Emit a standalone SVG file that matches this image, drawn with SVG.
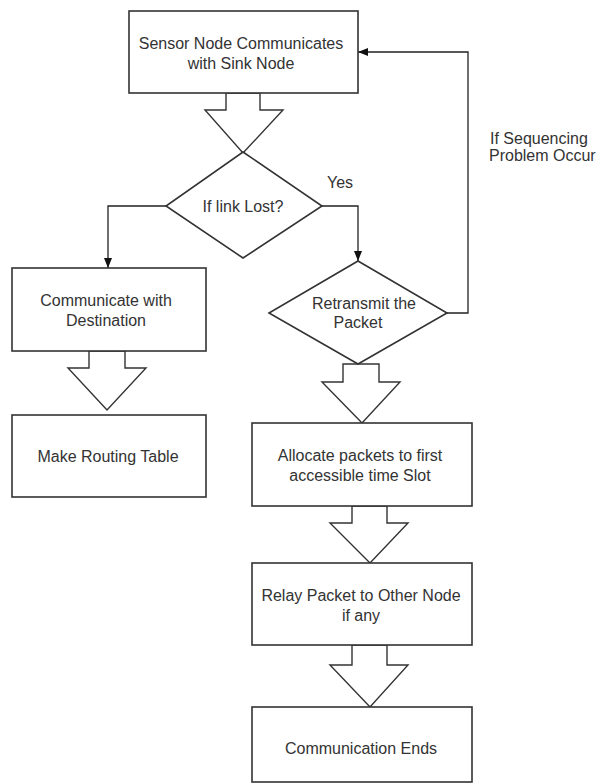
<svg xmlns="http://www.w3.org/2000/svg" width="600" height="783" viewBox="0 0 600 783">
<defs>
<marker id="arr" viewBox="0 0 10 8" refX="10" refY="4" markerWidth="10" markerHeight="8" markerUnits="userSpaceOnUse" orient="auto">
<path d="M0,0 L10,4 L0,8 Z" fill="#111"/>
</marker>
<style>
.box{fill:#fff;stroke:#333;stroke-width:1.6}
.blk{fill:#fff;stroke:#333;stroke-width:1.4;stroke-linejoin:miter}
.ln{fill:none;stroke:#222;stroke-width:1.3}
text{font-family:"Liberation Sans",Arial,sans-serif;font-size:16px;fill:#333;text-anchor:middle}
.lbl{text-anchor:start}
</style>
</defs>
<rect width="600" height="783" fill="#fff"/>
<g id="connectors">
<path class="ln" d="M322,206 H358 V261" marker-end="url(#arr)"/>
<path class="ln" d="M166,206 H108 V268" marker-end="url(#arr)"/>
<path class="ln" d="M447,313 H468 V52 H358" marker-end="url(#arr)"/>
<polygon class="blk" points="226,93 260,93 260,110 283,110 243,153 205,110 226,110"/>
<polygon class="blk" points="89,351 125,351 125,368 146,368 107,410 68,368 89,368"/>
<polygon class="blk" points="343,364 379,364 379,382 400,382 362,423 322,382 343,382"/>
<polygon class="blk" points="352,506 387,506 387,523 408,523 370,563 330,523 352,523"/>
<polygon class="blk" points="352,645 387,645 387,665 408,665 370,707 330,665 352,665"/>
<text x="340" y="188">Yes</text>
<text class="lbl" x="490" y="144">If Sequencing</text>
<text class="lbl" x="489" y="161">Problem Occur</text>
</g>
<g id="n1">
<rect class="box" x="129" y="11" width="229" height="82"/>
<text x="241" y="49">Sensor Node Communicates</text>
<text x="241" y="69">with Sink Node</text>
</g>
<g id="n2">
<polygon class="box" points="243,152 322,206 243,258 166,206"/>
<text x="243" y="212">If link Lost?</text>
</g>
<g id="n3">
<rect class="box" x="12" y="268" width="194" height="83"/>
<text x="106" y="306">Communicate with</text>
<text x="106" y="326">Destination</text>
</g>
<g id="n4">
<rect class="box" x="12" y="415" width="194" height="82"/>
<text x="108" y="462">Make Routing Table</text>
</g>
<g id="n5">
<polygon class="box" points="358,261 447,313 358,364 269,313"/>
<text x="364" y="309">Retransmit the</text>
<text x="358" y="328">Packet</text>
</g>
<g id="n6">
<rect class="box" x="252" y="423" width="220" height="83"/>
<text x="360" y="461">Allocate packets to first</text>
<text x="360" y="481">accessible time Slot</text>
</g>
<g id="n7">
<rect class="box" x="252" y="563" width="220" height="82"/>
<text x="361" y="601">Relay Packet to Other Node</text>
<text x="361" y="621">if any</text>
</g>
<g id="n8">
<rect class="box" x="252" y="707" width="220" height="75"/>
<text x="361" y="754">Communication Ends</text>
</g>
</svg>
